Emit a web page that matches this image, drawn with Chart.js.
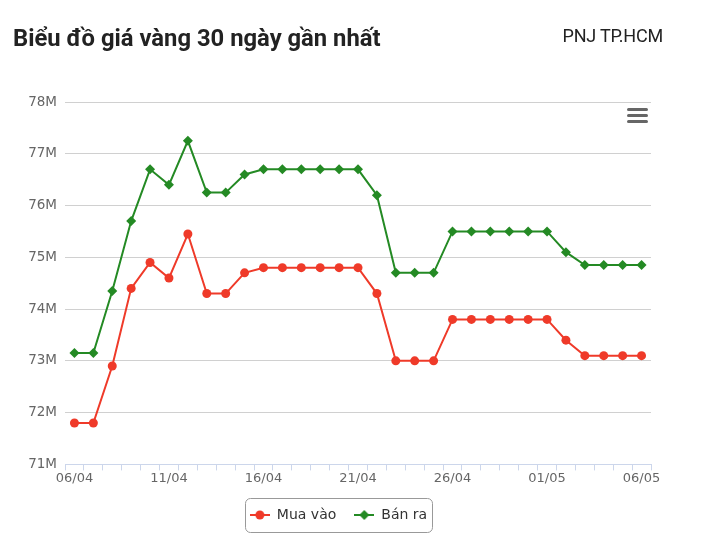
<!DOCTYPE html>
<html>
<head>
<meta charset="utf-8">
<script src="https://cdn.jsdelivr.net/npm/chart.js@4.4.1/dist/chart.umd.min.js"></script>
<style>
    html, body { margin: 0; padding: 0; background: #fff; }
    #wrap { position: relative; width: 722px; height: 541px; }
    #title { position: absolute; left: 13px; top: 24px; font: bold 23.8px Roboto, sans-serif; color: #222; }
    #source { position: absolute; right: 59px; top: 25px; font: 18px Roboto, sans-serif; color: #222; letter-spacing: -0.2px; }
    #menu { position: absolute; left: 627px; top: 108px; width: 21px; }
    #menu div { height: 3px; background: #666; border-radius: 2px; margin-bottom: 3px; }
</style>
</head>
<body>
<div id="wrap">
    <canvas id="chart" width="722" height="541"></canvas>
    <div id="title">Biểu đồ giá vàng 30 ngày gần nhất</div>
    <div id="source">PNJ TP.HCM</div>
    <div id="menu"><div></div><div></div><div></div></div>
</div>
<script>
// ngày (dd/mm)
const labels = [
    "06/04", "07/04", "08/04", "09/04", "10/04", "11/04", "12/04", "13/04", "14/04", "15/04",
    "16/04", "17/04", "18/04", "19/04", "20/04", "21/04", "22/04", "23/04", "24/04", "25/04",
    "26/04", "27/04", "28/04", "29/04", "30/04", "01/05", "02/05", "03/05", "04/05", "05/05",
    "06/05"
];

// giá, triệu đồng
const muaVao = [
    71.8, 71.8, 72.9, 74.4, 74.9, 74.6, 75.45, 74.3, 74.3, 74.7,
    74.8, 74.8, 74.8, 74.8, 74.8, 74.8, 74.3, 73.0, 73.0, 73.0,
    73.8, 73.8, 73.8, 73.8, 73.8, 73.8, 73.4, 73.1, 73.1, 73.1,
    73.1
];
const banRa = [
    73.15, 73.15, 74.35, 75.7, 76.7, 76.4, 77.25, 76.25, 76.25, 76.6,
    76.7, 76.7, 76.7, 76.7, 76.7, 76.7, 76.2, 74.7, 74.7, 74.7,
    75.5, 75.5, 75.5, 75.5, 75.5, 75.5, 75.1, 74.85, 74.85, 74.85,
    74.85
];

const yTicks = [71, 72, 73, 74, 75, 76, 77, 78];

const RED = "#ef3a29";
const GREEN = "#248a24";

/** icon cho legend: đường kẻ + marker */
function legendIcon(color, shape) {
    const c = document.createElement("canvas");
    c.width = 20; c.height = 12;
    const g = c.getContext("2d");
    g.strokeStyle = color; g.lineWidth = 2;
    g.beginPath(); g.moveTo(0, 6); g.lineTo(20, 6); g.stroke();
    g.fillStyle = color;
    g.beginPath();
    if (shape === "circle") {
        g.arc(10, 6, 4.5, 0, Math.PI * 2);
    } else {
        g.moveTo(10, 1); g.lineTo(15, 6); g.lineTo(10, 11); g.lineTo(5, 6); g.closePath();
    }
    g.fill();
    return c;
}

/** khung viền quanh legend */
const legendBorder = {
    id: "legendBorder",
    afterDraw(chart) {
        const boxes = chart.legend && chart.legend.legendHitBoxes;
        if (!boxes || !boxes.length) return;
        let x1 = Infinity, y1 = Infinity, x2 = -Infinity, y2 = -Infinity;
        boxes.forEach(b => {
            x1 = Math.min(x1, b.left); y1 = Math.min(y1, b.top);
            x2 = Math.max(x2, b.left + b.width); y2 = Math.max(y2, b.top + b.height);
        });
        const ctx = chart.ctx;
        ctx.save();
        ctx.strokeStyle = "#999";
        ctx.lineWidth = 1;
        ctx.beginPath();
        ctx.roundRect(Math.round(x1 - 5) + 0.5, Math.round(y1 - 10) + 0.5, Math.round(x2 - x1 + 10), Math.round(y2 - y1 + 20), 5);
        ctx.stroke();
        ctx.restore();
    }
};

new Chart(document.getElementById("chart").getContext("2d"), {
    type: "line",
    data: {
        labels: labels,
        datasets: [{
            label: "Mua vào",
            data: muaVao,
            borderColor: RED,
            backgroundColor: RED,
            borderWidth: 2,
            pointStyle: "circle",
            pointRadius: 4.5,
            pointHoverRadius: 5,
            pointBorderWidth: 0,
            tension: 0,
            fill: false
        }, {
            label: "Bán ra",
            data: banRa,
            borderColor: GREEN,
            backgroundColor: GREEN,
            borderWidth: 2,
            pointStyle: "rectRot",
            pointRadius: 5,
            pointHoverRadius: 5.5,
            pointBorderWidth: 0,
            tension: 0,
            fill: false
        }]
    },
    options: {
        responsive: false,
        animation: false,
        layout: { padding: { left: 26, right: 71, top: 102, bottom: 9 } },
        scales: {
            x: {
                offset: true,
                afterFit: scale => { scale.height += 4; },
                grid: { offset: true, drawOnChartArea: false, drawTicks: true, tickLength: 6, color: "#ccd6eb" },
                border: { color: "#ccd6eb", width: 1 },
                ticks: {
                    autoSkip: false,
                    maxRotation: 0,
                    padding: 0,
                    color: "#666",
                    font: { family: "DejaVu Sans", size: 13 },
                    callback: (v, i) => (i % 5 === 0 ? labels[i] : "")
                }
            },
            y: {
                min: yTicks[0],
                max: yTicks[yTicks.length - 1],
                afterBuildTicks: scale => { scale.ticks = yTicks.map(v => ({ value: v })); },
                afterFit: scale => { scale.width = 39; },
                grid: { drawTicks: false, color: "#d0d0d0" },
                border: { display: false },
                ticks: {
                    padding: 8,
                    color: "#666",
                    font: { family: "DejaVu Sans", size: 13.5 },
                    callback: v => v + "M"
                }
            }
        },
        plugins: {
            title: { display: false },
            tooltip: { enabled: false },
            legend: {
                position: "bottom",
                labels: {
                    usePointStyle: true,
                    pointStyleWidth: 20,
                    padding: 18,
                    color: "#333",
                    font: { family: "DejaVu Sans", size: 14 },
                    generateLabels: chart => chart.data.datasets.map((ds, i) => ({
                        text: ds.label,
                        pointStyle: legendIcon(ds.borderColor, i === 0 ? "circle" : "diamond"),
                        fillStyle: ds.borderColor,
                        strokeStyle: ds.borderColor,
                        fontColor: "#333",
                        lineWidth: 0,
                        hidden: false,
                        datasetIndex: i
                    }))
                }
            }
        }
    },
    plugins: [legendBorder]
});
</script>
</body>
</html>
